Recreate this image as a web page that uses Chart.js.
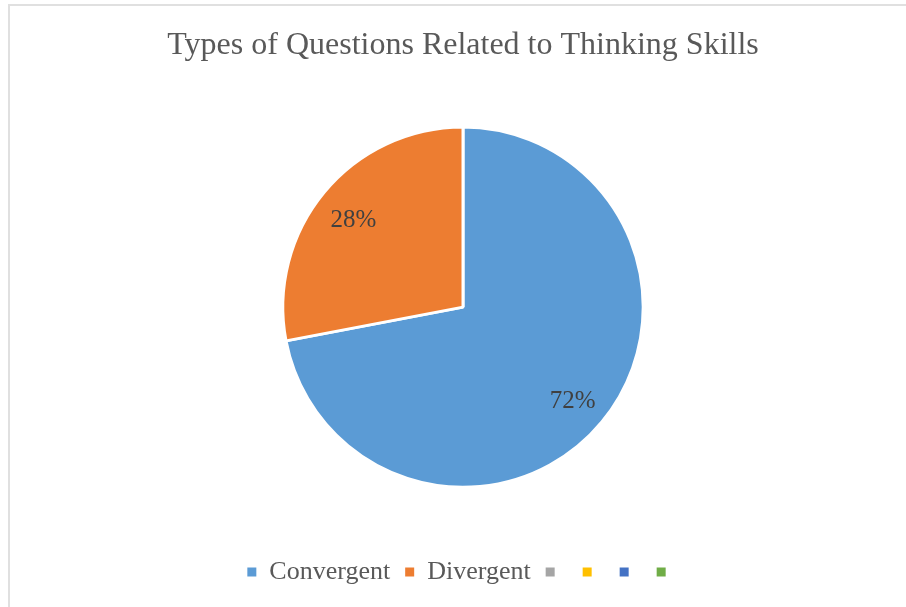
<!DOCTYPE html>
<html lang="en">
  <head>
    <meta charset="UTF-8" />
    <title>Types of Questions Related to Thinking Skills</title>
    <style>
      body { margin: 0; background: #fff; overflow: hidden; }
      .frame {
        position: absolute; left: 8px; top: 4px;
        width: 2000px; height: 2000px;
        border: 2px solid #e0e0e0;
      }
      .wrap { position: absolute; left: 9px; top: 0; width: 908px; height: 607px; }
    </style>
  </head>
  <body>
    <div class="frame"></div>
    <div class="wrap">
      <canvas id="myChart"></canvas>
    </div>
    <script src="https://cdn.jsdelivr.net/npm/chart.js"></script>
    <script>
      const chartTitle = "Types of Questions Related to Thinking Skills";
      // the empty categories show up as bare legend boxes, like the original
      const categories = ["Convergent", "Divergent", "", "", "", ""];
      const values = [72, 28, 0, 0, 0, 0];
      const colors = ["#5B9BD5", "#ED7D31", "#A5A5A5", "#FFC000", "#4472C4", "#70AD47"];

      const serif = '"Liberation Serif", "Times New Roman", serif';

      // percent labels inside the slices
      const pctLabels = {
        id: "pctLabels",
        afterDatasetsDraw(chart) {
          const ctx = chart.ctx;
          const total = values.reduce((a, b) => a + b, 0);
          const meta = chart.getDatasetMeta(0);
          ctx.save();
          ctx.font = "25px " + serif;
          ctx.fillStyle = "#404040";
          ctx.textAlign = "center";
          ctx.textBaseline = "middle";
          meta.data.forEach((arc, i) => {
            if (!values[i]) return;
            const p = arc.getProps(["x", "y", "startAngle", "endAngle", "outerRadius"], true);
            const mid = (p.startAngle + p.endAngle) / 2;
            const r = p.outerRadius * 0.79;
            const txt = Math.round((values[i] / total) * 100) + "%";
            ctx.fillText(txt, p.x + Math.cos(mid) * r, p.y + Math.sin(mid) * r + 4);
          });
          ctx.restore();
        },
      };

      const ctx = document.getElementById("myChart");
      const pieLabels = Chart.overrides.pie.plugins.legend.labels.generateLabels;

      new Chart(ctx, {
        type: "pie",
        data: {
          labels: categories,
          datasets: [
            {
              data: values,
              backgroundColor: colors,
              borderColor: "#ffffff",
              borderWidth: 3,
            },
          ],
        },
        options: {
          responsive: true,
          maintainAspectRatio: false,
          animation: false,
          layout: { padding: { top: 0, bottom: 12, left: 0, right: 0 } },
          plugins: {
            tooltip: { enabled: false },
            title: {
              display: true,
              text: chartTitle,
              color: "#595959",
              font: { family: serif, size: 32, weight: "normal" },
              padding: { top: 26, bottom: 61 },
            },
            // empty subtitle used as a spacer between pie and legend
            subtitle: {
              display: true,
              position: "bottom",
              weight: 500,
              text: "",
              font: { size: 1 },
              padding: { top: 54, bottom: 0 },
            },
            legend: {
              position: "bottom",
              labels: {
                boxWidth: 9,
                boxHeight: 9,
                padding: 15,
                color: "#595959",
                font: { family: serif, size: 26 },
                // no white outline on the legend squares
                generateLabels(chart) {
                  return pieLabels(chart).map((l) => ({ ...l, lineWidth: 0 }));
                },
              },
            },
          },
        },
        plugins: [pctLabels],
      });
    </script>
  </body>
</html>
